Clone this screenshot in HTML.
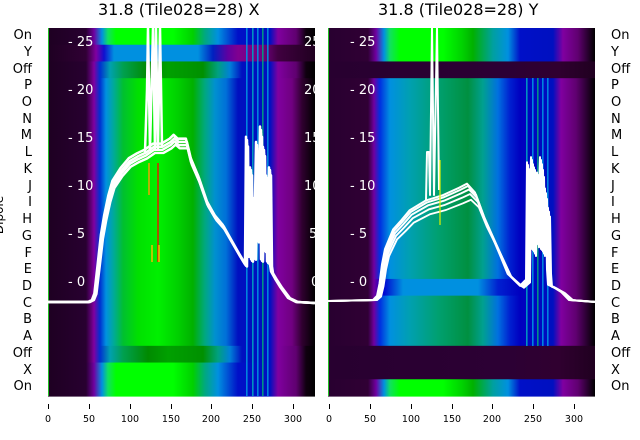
<!DOCTYPE html>
<html><head><meta charset="utf-8"><style>
body{margin:0;width:640px;height:440px;background:#fff;position:relative;overflow:hidden;font-family:"DejaVu Sans","Liberation Sans",sans-serif}
.lab{position:absolute;font-size:13px;color:#000;line-height:16.73px}
.t{position:absolute;font-size:16px;color:#000}
.tk{position:absolute;color:#fff;font-size:13px}
.xl{position:absolute;top:414px;font-size:9.5px;width:30px;text-align:center}
.xt{position:absolute;top:404px;width:1px;height:5px;background:#000}
</style></head><body>
<div class="t" style="left:98px;top:0px">31.8 (Tile028=28) X</div>
<div class="t" style="left:378px;top:0px">31.8 (Tile028=28) Y</div>
<div style="position:absolute;left:-20px;top:208px;transform:rotate(-90deg);font-size:12px">Dipole</div>
<div id="hm"></div>
<svg style="position:absolute;left:0;top:0" width="640" height="440">
<defs><clipPath id="c1"><rect x="48" y="28" width="267" height="368"/></clipPath><clipPath id="c2"><rect x="328" y="28" width="267" height="368"/></clipPath></defs>
<g clip-path="url(#c1)" fill="none" stroke="#fff" stroke-width="2.5" stroke-linejoin="round">
<g id="L"><polyline points="48,302 88.9,302 92.9,300 95.4,293.6 98.7,264.8 101.9,236 105.2,216.8 109.3,197.6 113.4,183.2 121.5,170.7 129.7,161.1 137.9,156.3 146,152.5 154.2,146.7 162.4,146.7 170.6,141.9 174.6,138.1 178.7,141.9 186.9,141.9 191,159.2 199.1,178.4 207.3,202.4 215.5,216.8 223.7,226.4 231.8,240.8 240,255.2 244.1,262 246,265 247,140 248,255 250,250 251,170 252,260 254,200 255,258 257,145 258,240 260,200 261,130 262,260 264,150 265,250 267,178 268,262 270,170 271,265 272,272 276,279 281,287 289,298 297,302 315,303"/></g>
<use href="#L" transform="translate(0,302) scale(1,0.98) translate(0,-302)"/><use href="#L" transform="translate(1,302) scale(1,0.96) translate(0,-302)"/><use href="#L" transform="translate(-1,302) scale(1,1.02) translate(0,-302)"/>
<polyline points="145,152 147,90 148,28 150,150 153,28 155,150 156,28 158,148 160,28 162,146"/>
</g>
<line x1="149" y1="163" x2="149" y2="195" stroke="#f0a000" stroke-width="1.5"/>
<line x1="158" y1="163" x2="158" y2="262" stroke="#e02000" stroke-width="1.5"/>
<line x1="152" y1="245" x2="152" y2="262" stroke="#f0c000" stroke-width="1.5"/>
<line x1="159" y1="245" x2="159" y2="262" stroke="#f0c000" stroke-width="1.5"/>
<g clip-path="url(#c2)" fill="none" stroke="#fff" stroke-width="2" stroke-linejoin="round">
<g id="R"><polyline points="329,301 374,300 378,296 380.5,284 383,265 386,250 394,231 402.5,221.6 410.7,212 427,202.4 443,197.6 460,190 468,186 476,194.7 484,216.8 492.4,236 500.6,255 508.7,274.4 521,286 525,282 527,280 528,165 529,230 531,200 532,160 533,250 535,170 536,240 538,175 539,230 541,160 542,250 544,185 545,245 547,205 548,270 549,285 553.7,287 562,292 570,300 595,302"/></g>
<use href="#R" transform="translate(1,301) scale(1,0.97) translate(0,-301)"/><use href="#R" transform="translate(-1,301) scale(1,1.02) translate(0,-301)"/><use href="#R" transform="translate(2,301) scale(1,0.93) translate(0,-301)"/><use href="#R" transform="translate(3,301) scale(1,0.88) translate(0,-301)"/>
<polyline points="426,200 427,152 429,152 430,195 432,28 434,195 437,28 439,190"/>
</g>
<line x1="440" y1="160" x2="440" y2="225" stroke="#e0f000" stroke-width="1.2"/>
</svg>

<div class="tk" style="left:68px;top:35px">- 25</div><div class="tk" style="left:68px;top:83px">- 20</div><div class="tk" style="left:68px;top:131px">- 15</div><div class="tk" style="left:68px;top:179px">- 10</div><div class="tk" style="left:68px;top:227px">- 5</div><div class="tk" style="left:68px;top:275px">- 0</div>
<div class="tk" style="left:350px;top:35px">- 25</div><div class="tk" style="left:350px;top:83px">- 20</div><div class="tk" style="left:350px;top:131px">- 15</div><div class="tk" style="left:350px;top:179px">- 10</div><div class="tk" style="left:350px;top:227px">- 5</div><div class="tk" style="left:350px;top:275px">- 0</div>
<div style="position:absolute;left:300px;top:28px;width:15px;height:368px;overflow:hidden">
<div class="tk" style="left:4px;top:7px">25</div><div class="tk" style="left:4px;top:55px">20</div><div class="tk" style="left:4px;top:103px">15</div><div class="tk" style="left:4px;top:151px">10</div><div class="tk" style="left:9px;top:199px">5</div><div class="tk" style="left:11px;top:247px">0</div></div>
<div id="labs"></div>
<script>
(function(){
function G(id,x0,st){var s='<linearGradient id="'+id+'" gradientUnits="userSpaceOnUse" x1="'+x0+'" y1="0" x2="'+(x0+267)+'" y2="0">';
for(var i=0;i<st.length;i+=2){s+='<stop offset="'+(st[i]/267).toFixed(4)+'" stop-color="'+st[i+1]+'"/>';}return s+'</linearGradient>';}
var on=[0,'#1e0022',38,'#280030',46,'#7000a0',54,'#0090e0',60,'#10e060',68,'#00ff00',125,'#00ff00',145,'#00d000',157,'#00a880',170,'#0090e0',190,'#0010c8',222,'#0010c0',230,'#8000a0',248,'#600070',258,'#100010',267,'#000'];
var ly=[0,'#1e0022',38,'#300034',48,'#8000a0',56,'#1010d0',66,'#0090e0',150,'#0090e0',165,'#0020c0',180,'#6000a0',190,'#800090',215,'#700080',230,'#400040',267,'#200020'];
var lo=[0,'#1e0022',38,'#280030',46,'#8000a0',52,'#0030d0',62,'#00a0b0',75,'#00a050',100,'#008a00',120,'#00a000',155,'#009000',170,'#00a080',182,'#0080d8',194,'#0010c0',222,'#0010c0',230,'#8000a0',248,'#600070',258,'#100010',267,'#000'];
var lg=[0,'#1e0022',38,'#280030',46,'#8000a0',52,'#0030d0',58,'#0090e0',65,'#00a8a0',75,'#00c030',90,'#00e000',110,'#00f000',130,'#00d000',145,'#00b000',157,'#00a880',167,'#0090d0',178,'#0070d8',190,'#0010c0',222,'#0010c0',230,'#8000a0',244,'#700080',254,'#300030',267,'#000'];
var ron=[0,'#280030',40,'#300034',48,'#7000a0',56,'#0090e0',62,'#10e060',72,'#00ff00',115,'#00ff00',135,'#00d000',145,'#00b000',165,'#00a0a0',180,'#0090e0',192,'#0010c8',225,'#0010c0',235,'#8000a0',250,'#600070',267,'#000'];
var rdk=[0,'#280030',180,'#2c0034',230,'#300030',267,'#200020'];
var rg=[0,'#280030',40,'#300034',46,'#7000a0',52,'#0030e0',62,'#0090e0',82,'#00a0b0',110,'#00a070',140,'#009040',155,'#00a090',170,'#0070e0',182,'#0020d0',192,'#0000c0',225,'#0010c0',233,'#8000a0',248,'#600070',267,'#000'];
var rd=[0,'#280030',40,'#300034',46,'#7000a0',55,'#0000d0',75,'#0090e0',150,'#0090e0',170,'#0020d0',192,'#0000c0',225,'#0010c0',233,'#8000a0',248,'#600070',267,'#000'];
var d=G('on',48,on)+G('ly',48,ly)+G('lo',48,lo)+G('lg',48,lg)+G('ron',328,ron)+G('rdk',328,rdk)+G('rg',328,rg)+G('rd',328,rd);
var b='';var rh=368/22;
for(var i=0;i<22;i++){var y=28+i*rh;
var lf=(i==0||i==20||i==21)?'on':(i==1?'ly':((i==2||i==19)?'lo':'lg'));
var rf=(i==0||i==1||i==21)?'ron':((i==2||i==19||i==20)?'rdk':(i==15?'rd':'rg'));
b+='<rect x="48" y="'+y.toFixed(2)+'" width="267" height="'+(rh+0.6).toFixed(2)+'" fill="url(#'+lf+')"/>';
b+='<rect x="328" y="'+y.toFixed(2)+'" width="267" height="'+(rh+0.6).toFixed(2)+'" fill="url(#'+rf+')"/>';}
var sc=['#0090e0','#00a0c0','#0090e0','#00a080','#0090e0'],sx=[246,252,257,262,267];
for(var k=0;k<5;k++){b+='<rect x="'+sx[k]+'" y="28" width="1.6" height="368" fill="'+sc[k]+'" opacity="0.9"/>';
b+='<rect x="'+(sx[k]+280)+'" y="78" width="1.6" height="268" fill="'+sc[(k+1)%5]+'" opacity="0.9"/>';}
b+='<rect x="48" y="28" width="1" height="368" fill="#20c020"/><rect x="328" y="28" width="1" height="368" fill="#20c020"/>';
document.getElementById('hm').outerHTML='<svg style="position:absolute;left:0;top:0" width="640" height="440"><defs>'+d+'</defs>'+b+'</svg>';
var L=["On","Y","Off","P","O","N","M","L","K","J","I","H","G","F","E","D","C","B","A","Off","X","On"];var h="";
for(var i=0;i<22;i++){var y=(28+i*16.727).toFixed(1);h+='<div class="lab" style="right:608px;top:'+y+'px">'+L[i]+'</div><div class="lab" style="left:611px;top:'+y+'px">'+L[i]+'</div>';}
var X=[0,50,100,150,200,250,300];
for(var j=0;j<7;j++){var a=48+X[j]*0.817,c=329+X[j]*0.817;h+='<div class="xt" style="left:'+a.toFixed(0)+'px"></div><div class="xl" style="left:'+(a-15).toFixed(0)+'px">'+X[j]+'</div><div class="xt" style="left:'+c.toFixed(0)+'px"></div><div class="xl" style="left:'+(c-15).toFixed(0)+'px">'+X[j]+'</div>';}
document.getElementById('labs').outerHTML=h;
})();
</script>
</body></html>
